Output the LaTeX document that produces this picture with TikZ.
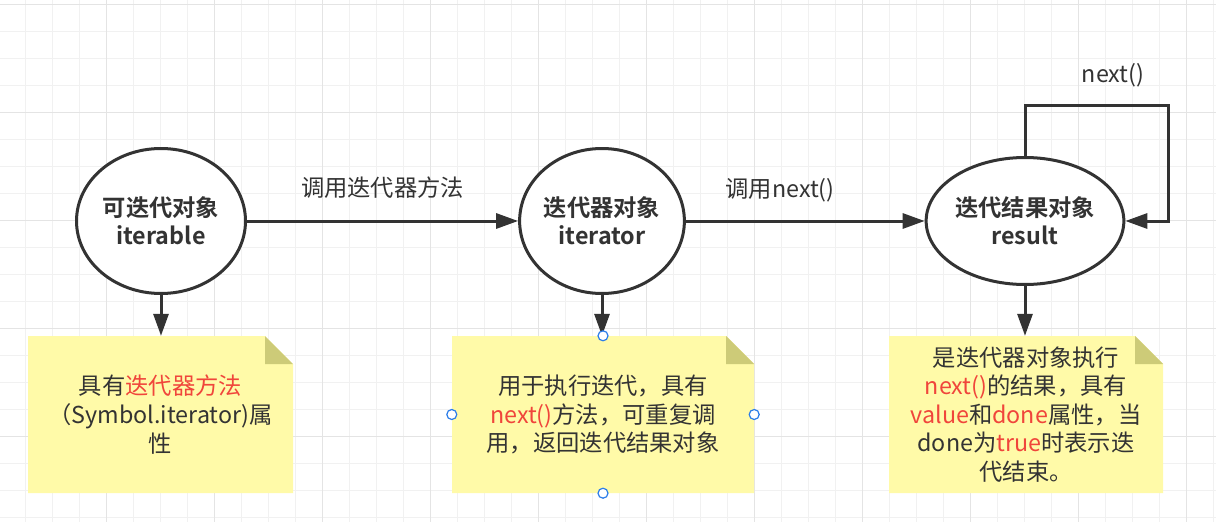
\documentclass[tikz,border=0pt]{standalone}
\usepackage{fontspec}
\setmainfont{Noto Sans CJK SC}[BoldFont={* Bold}]
\usetikzlibrary{arrows.meta,shapes.geometric}
\definecolor{ink}{HTML}{333333}
\definecolor{hl}{HTML}{F0453B}
\definecolor{notefill}{HTML}{FFFAA8}
\definecolor{foldfill}{HTML}{CDCB78}
\definecolor{gridminor}{HTML}{F1F1F1}
\definecolor{gridmajor}{HTML}{E4E4E4}
\definecolor{handlecol}{HTML}{2B7DE9}
\newcommand{\hlt}[1]{\textcolor{hl}{#1}}
\begin{document}
\begin{tikzpicture}[x=1pt,y=-1pt,
  obj/.style={ellipse,draw=ink,line width=3pt,fill=white,text=ink,align=center,inner sep=0pt,
    font=\fontsize{23.3}{28}\selectfont\bfseries},
  lbl/.style={text=ink,inner sep=0pt,font=\fontsize{23.3}{28}\selectfont},
  arr/.style={draw=ink,line width=3pt,-{Triangle[length=22pt,width=15pt]}},
  notebox/.style={rectangle,inner sep=0pt,align=center,text=ink,
    font=\fontsize{23.3}{28.6}\selectfont,
    path picture={
      \fill[notefill] (path picture bounding box.south west) -- (path picture bounding box.north west)
        -- ([xshift=-28pt]path picture bounding box.north east)
        -- ([yshift=-28pt]path picture bounding box.north east)
        -- (path picture bounding box.south east) -- cycle;
      \fill[foldfill] ([xshift=-28pt]path picture bounding box.north east)
        -- ([xshift=-28pt,yshift=-28pt]path picture bounding box.north east)
        -- ([yshift=-28pt]path picture bounding box.north east) -- cycle;
    }},
  handle/.style={circle,draw=handlecol,fill=white,line width=1.2pt,minimum size=10pt,inner sep=0pt}
]
\useasboundingbox (0,0) rectangle (1216,522);
\fill[white] (0,0) rectangle (1216,522);
% grid
\foreach \x in {-2,25,...,1216} \draw[gridminor,line width=1pt] (\x,0) -- (\x,522);
\foreach \y in {4,31,...,522} \draw[gridminor,line width=1pt] (0,\y) -- (1216,\y);
\foreach \x in {106,214,...,1216} \draw[gridmajor,line width=1pt] (\x,0) -- (\x,522);
\foreach \y in {4,112,...,522} \draw[gridmajor,line width=1pt] (0,\y) -- (1216,\y);

% notes
\node[notebox,minimum width=265pt,minimum height=157pt] (n1) at (160.5,414.5)
  {具有\hlt{迭代器方法}\\（Symbol.iterator)属\\性};
\node[notebox,minimum width=302pt,minimum height=157pt] (n2) at (603,414.5)
  {用于执行迭代，具有\\\hlt{next()}方法，可重复调\\用，返回迭代结果对象};
\node[notebox,minimum width=274pt,minimum height=157pt] (n3) at (1026,414.5)
  {是迭代器对象执行\\\hlt{next()}的结果，具有\\\hlt{value}和\hlt{done}属性，当\\done为\hlt{true}时表示迭\\代结束。};

% objects
\node[obj,minimum width=169pt,minimum height=145pt] (e1) at (161,221) {可迭代对象\\iterable};
\node[obj,minimum width=164pt,minimum height=145pt] (e2) at (602,221) {迭代器对象\\iterator};
\node[obj,minimum width=177pt,minimum height=127pt] (e3) at (1025,221) {迭代结果对象\\result};

% connectors
\draw[arr] (e1) -- node[lbl,midway,yshift=33pt] (l1) {调用迭代器方法} (e2);
\draw[arr] (e2) -- node[lbl,pos=0.395,yshift=31pt] (l2) {调用next()} (e3);
\coordinate (loop) at (1168,105);
\draw[arr] (e3.north) |- (loop) |- (e3.east);
\node[lbl] (l3) at (1113,75) {next()};
\draw[arr] (e1.south) -- (e1.south |- n1.north);
\draw[arr] (e2.south) -- (e2.south |- n2.north);
\draw[arr] (e3.south) -- (e3.south |- n3.north);

% selection handles
\node[handle] (h1) at (n2.north) {};
\node[handle] (h2) at (n2.west) {};
\node[handle] (h3) at (n2.east) {};
\node[handle] (h4) at (n2.south) {};
\end{tikzpicture}
\end{document}
